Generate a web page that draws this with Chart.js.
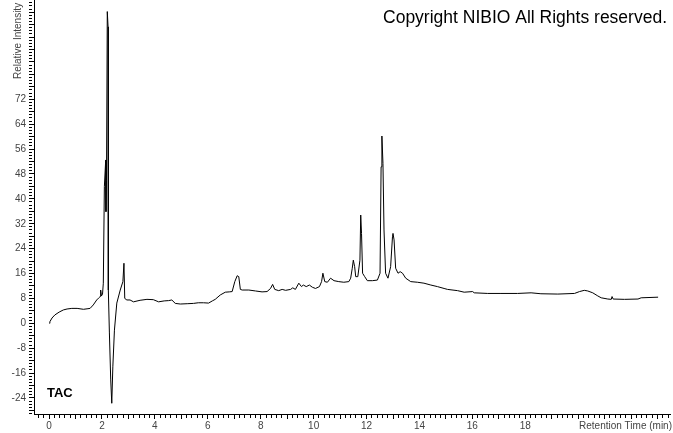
<!DOCTYPE html>
<html>
<head>
<meta charset="utf-8">
<script src="https://cdn.jsdelivr.net/npm/chart.js@4.4.1/dist/chart.umd.min.js"></script>
<style>
html,body{margin:0;padding:0;background:#fff;overflow:hidden;}
#wrap{width:673px;height:433px;position:relative;}
</style>
</head>
<body>
<div id="wrap"><canvas id="c" width="673" height="433"></canvas></div>
<script>
// Retention time (min)
const retentionTime = [0.01,0.03,0.11,0.22,0.38,0.54,0.68,0.86,1.06,1.30,
1.47,1.55,1.67,1.80,1.87,1.93,1.95,1.98,2.02,2.05,
2.09,2.14,2.15,2.17,2.20,2.23,2.24,2.28,2.33,2.37,
2.41,2.47,2.56,2.69,2.79,2.83,2.86,2.94,3.06,3.19,
3.44,3.70,3.94,4.14,4.35,4.52,4.64,4.77,4.96,5.22,
5.46,5.64,5.84,6.03,6.17,6.28,6.47,6.66,6.81,6.92,
7.02,7.11,7.17,7.23,7.30,7.55,7.80,8.05,8.24,8.37,
8.45,8.53,8.68,8.81,8.94,9.13,9.21,9.31,9.44,9.54,
9.61,9.72,9.84,9.95,10.07,10.22,10.30,10.35,10.42,10.52,
10.64,10.77,10.95,11.14,11.33,11.40,11.46,11.50,11.55,11.59,
11.67,11.75,11.78,11.81,11.85,11.93,12.03,12.22,12.41,12.51,
12.55,12.58,12.62,12.66,12.72,12.81,12.91,12.98,13.00,13.04,
13.10,13.19,13.27,13.36,13.48,13.67,13.92,14.17,14.43,14.68,
14.93,15.06,15.44,15.69,16.01,16.07,16.58,17.08,17.71,18.22,
18.59,19.23,19.86,20.05,20.23,20.36,20.55,20.74,20.87,21.12,
21.25,21.28,21.32,21.75,22.26,22.38,23.02];
// Relative intensity (TAC)
const intensity = [0.0,0.5,1.7,2.7,3.6,4.3,4.6,4.8,4.8,4.5,
4.7,4.8,5.9,7.5,8.1,8.6,10.7,8.8,9.4,12.9,
43.9,52.5,35.9,46,100.2,95.3,10.7,-3.1,-18.2,-25.7,
-14,-2.2,6.5,10.7,13.4,19.3,8.0,7.5,7.5,6.9,
7.4,7.7,7.6,6.9,7.2,7.3,7.5,6.4,6.2,6.3,
6.4,6.6,6.6,6.5,7.2,7.7,9.1,10.0,10.1,10.2,
13.4,15.3,15.0,10.9,10.7,10.7,10.4,10.1,10.2,11.2,
12.5,10.9,10.5,10.9,10.6,10.9,11.4,10.9,12.9,11.8,
12.3,11.8,12.3,11.6,11.2,11.8,13.4,16.1,13.4,13.2,
14.5,13.7,13.4,13.2,13.4,14.5,17.7,20.3,18.2,15.0,
15.0,20.3,34.8,28.9,16.1,15.0,13.7,13.7,13.9,16.1,
50.3,60.2,51.4,30.0,16.1,14.5,18.2,27.8,28.9,26.8,
17.7,16.1,16.6,16.1,14.5,13.4,13.2,12.9,12.3,11.8,
11.2,10.9,10.5,10.0,10.2,9.8,9.6,9.6,9.6,9.8,
9.5,9.4,9.6,10.2,10.6,10.4,9.8,8.8,8.2,7.8,
7.7,8.6,7.8,7.7,7.8,8.2,8.4];
// Tick labels
const xTickLabels = [0,2,4,6,8,10,12,14,16,18];
const yTickLabels = [-24,-16,-8,0,8,16,24,32,40,48,56,64,72];

const FONT = '"Liberation Sans", Arial, sans-serif';
const points = retentionTime.map((t, i) => ({x: t, y: intensity[i]}));

const near = (a, b) => Math.abs(a - b) < 1e-6;
const isMult = (v, m) => near(v / m, Math.round(v / m));

const textPlugin = {
  id: 'texts',
  afterDraw(chart) {
    const ctx = chart.ctx;
    ctx.save();
    ctx.fillStyle = '#000';
    ctx.textBaseline = 'alphabetic';
    ctx.font = '17.5px ' + FONT;
    ctx.textAlign = 'right';
    ctx.fillText('Copyright NIBIO All Rights reserved.', 667, 23);
    ctx.font = 'bold 13px ' + FONT;
    ctx.textAlign = 'left';
    ctx.fillText('TAC', 47, 397);
    ctx.font = '10px ' + FONT;
    ctx.fillStyle = '#444';
    ctx.textAlign = 'right';
    ctx.fillText('Retention Time (min)', 672, 428.5);
    // y-axis title, running bottom-to-top, clipped at the top like the original
    ctx.translate(18, 79);
    ctx.rotate(-Math.PI / 2);
    ctx.textAlign = 'left';
    ctx.textBaseline = 'middle';
    ctx.fillText('Relative Intensity', 0, 0);
    ctx.restore();
  }
};

new Chart(document.getElementById('c'), {
  type: 'line',
  data: {
    datasets: [{
      data: points,
      borderColor: '#000',
      borderWidth: 1,
      pointRadius: 0,
      tension: 0,
      fill: false
    }]
  },
  options: {
    responsive: false,
    animation: false,
    events: [],
    layout: {padding: {left: 0, right: 3, top: 0, bottom: 0}},
    plugins: {legend: {display: false}, tooltip: {enabled: false}},
    scales: {
      x: {
        type: 'linear',
        position: 'bottom',
        min: -0.57,
        max: 23.47,
        afterFit: s => { s.height = 19; s.paddingLeft = 0; s.paddingRight = 0; },
        border: {display: true, color: '#000', width: 1},
        grid: {
          display: true,
          drawOnChartArea: false,
          drawTicks: true,
          tickLength: 5,
          tickColor: '#000',
          tickWidth: 1,
          tickBorderDash: c => {
            const v = c.tick ? c.tick.value : 0;
            if (isMult(v, 2)) return [];
            if (isMult(v, 1)) return [4, 20];
            return [3, 20];
          }
        },
        ticks: {
          stepSize: 0.2,
          includeBounds: false,
          autoSkip: false,
          maxRotation: 0,
          minRotation: 0,
          padding: 1,
          color: '#444',
          font: {family: FONT, size: 10},
          callback: v => {
            const r = Math.round(v * 10) / 10;
            return xTickLabels.some(l => near(l, r)) ? String(Math.round(r)) : '';
          }
        }
      },
      y: {
        type: 'linear',
        position: 'left',
        min: -29.15,
        max: 103.92,
        afterFit: s => { s.width = 34; s.paddingTop = 0; s.paddingBottom = 0; },
        border: {display: true, color: '#000', width: 1},
        grid: {
          display: true,
          drawOnChartArea: false,
          drawTicks: true,
          tickLength: 5,
          tickColor: '#000',
          tickWidth: 1,
          tickBorderDash: c => {
            const v = c.tick ? c.tick.value : 0;
            if (isMult(v, 4)) return [];
            return [3, 20];
          }
        },
        ticks: {
          stepSize: 1,
          includeBounds: false,
          autoSkip: false,
          padding: 3,
          color: '#444',
          font: {family: FONT, size: 10},
          callback: v => {
            const r = Math.round(v);
            return yTickLabels.some(l => near(l, v)) ? String(r) : '';
          }
        }
      }
    }
  },
  plugins: [textPlugin]
});
</script>
</body>
</html>
